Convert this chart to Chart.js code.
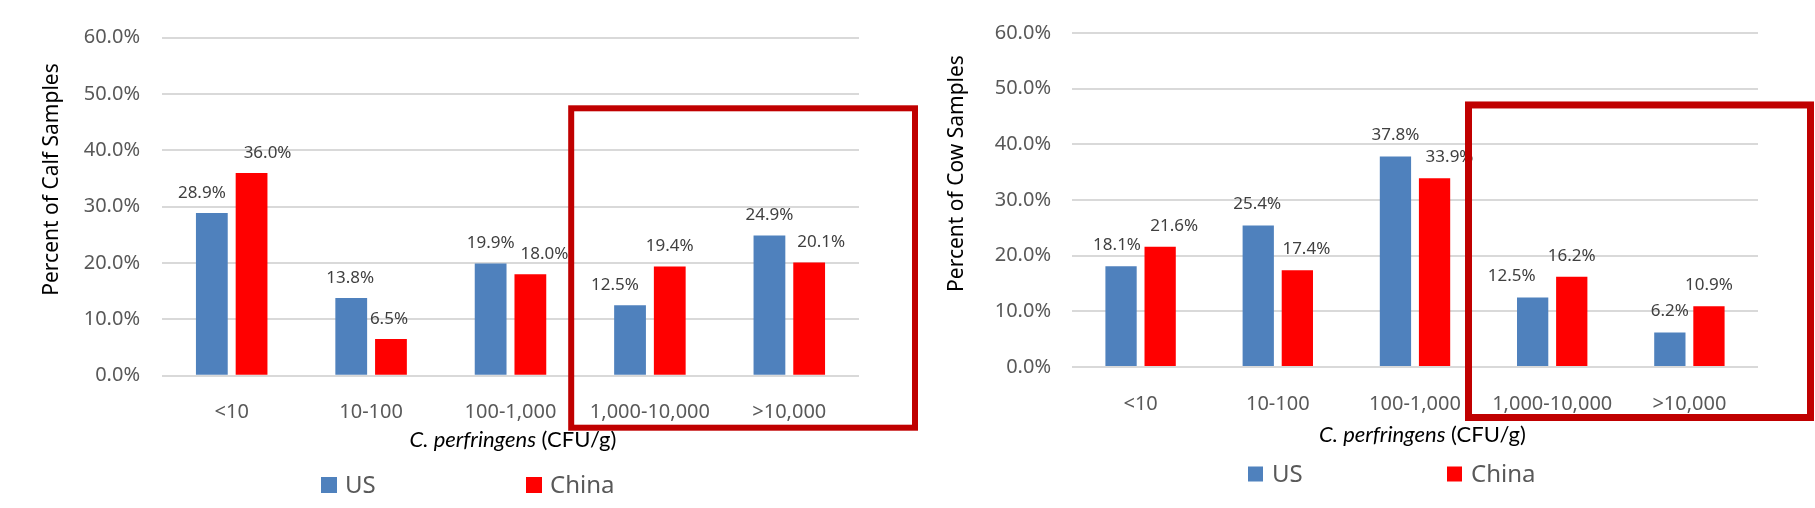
<!DOCTYPE html>
<html><head><meta charset="utf-8">
<script src="https://cdn.jsdelivr.net/npm/chart.js@4.4.0/dist/chart.umd.min.js"></script>
<style>
html,body{margin:0;padding:0;background:#fff;width:1815px;height:508px;overflow:hidden;}
#w1{position:absolute;left:0;top:0;width:930px;height:508px;}
#w2{position:absolute;left:930px;top:0;width:885px;height:508px;}
</style></head><body>
<div id="w1"><canvas id="c1"></canvas></div>
<div id="w2"><canvas id="c2"></canvas></div>
<script>
// ---- data ----
const categories = ['<10', '10-100', '100-1,000', '1,000-10,000', '>10,000'];
const seriesNames = ['US', 'China'];
const calfUS = [28.9, 13.8, 19.9, 12.5, 24.9];
const calfChina = [36.0, 6.5, 18.0, 19.4, 20.1];
const cowUS = [18.1, 25.4, 37.8, 12.5, 6.2];
const cowChina = [21.6, 17.4, 33.9, 16.2, 10.9];
const yTickLabels = ['0.0%', '10.0%', '20.0%', '30.0%', '40.0%', '50.0%', '60.0%'];
const calfYTitle = 'Percent of Calf Samples';
const cowYTitle = 'Percent of Cow Samples';
const xTitleItalic = 'C. perfringens';
const xTitleRest = ' (CFU/g)';

// ---- label nudges (layout only, px) ----
const calfLabelDx = [[-10, -1, 0, -15, 0], [16, -2, 14, 0, 12]];
const cowLabelDx = [[-4, -1, 0, -21, 0], [14, 9, 15, 0, 0]];

const US_COLOR = '#4F81BD';
const CN_COLOR = '#FF0000';
const FONT = '"Noto Sans", "Open Sans", sans-serif';

const extras = {
  id: 'extras',
  afterDatasetsDraw(chart, args, o) {
    const ctx = chart.ctx, ca = chart.chartArea;
    const ys = chart.scales.y;
    ctx.save();
    // data labels
    ctx.font = '17px ' + FONT;
    ctx.fillStyle = '#404040';
    ctx.textAlign = 'center';
    ctx.textBaseline = 'middle';
    chart.data.datasets.forEach((ds, di) => {
      const meta = chart.getDatasetMeta(di);
      meta.data.forEach((bar, i) => {
        ctx.fillText(ds.data[i].toFixed(1) + '%', bar.x + o.labelDx[di][i], bar.y - o.labelGap);
      });
    });
    // y title
    ctx.save();
    ctx.translate(o.yTitle.x, o.yTitle.y);
    ctx.rotate(-Math.PI / 2);
    ctx.font = '21px ' + FONT;
    ctx.fillStyle = '#000000';
    ctx.fillText(o.yTitle.text, 0, 0);
    ctx.restore();
    // x title (italic + regular)
    const fI = 'italic 22px Lato, "Open Sans", sans-serif';
    const fR = '22px Lato, "Open Sans", sans-serif';
    ctx.font = fI; const wI = ctx.measureText(xTitleItalic).width;
    ctx.font = fR; const wR = ctx.measureText(xTitleRest).width;
    let sx = (ca.left + ca.right) / 2 + o.xTitle.dx - (wI + wR) / 2;
    ctx.textAlign = 'left';
    ctx.fillStyle = '#000000';
    ctx.font = fI; ctx.fillText(xTitleItalic, sx, o.xTitle.y);
    ctx.font = fR; ctx.fillText(xTitleRest, sx + wI, o.xTitle.y);
    // legend
    ctx.font = '24px ' + FONT;
    const cols = [US_COLOR, CN_COLOR];
    seriesNames.forEach((n, k) => {
      const x = o.legend.xs[k];
      ctx.fillStyle = cols[k];
      ctx.fillRect(x, o.legend.y - o.legend.box / 2, o.legend.box, o.legend.box);
      ctx.fillStyle = '#595959';
      ctx.fillText(n, x + 24, o.legend.y + 1);
    });
    // highlight box around the last two categories
    const b = o.box;
    const catW = (ca.right - ca.left) / categories.length;
    const left = ca.left + catW * b.fromCat - b.padLeft;
    const top = ys.getPixelForValue(b.topValue);
    const right = ca.right + b.padRight;
    const bottom = ca.bottom + b.padBottom;
    ctx.strokeStyle = '#C00000';
    ctx.lineWidth = b.lw;
    ctx.strokeRect(left + b.lw / 2, top + b.lw / 2, right - left - b.lw, bottom - top - b.lw);
    ctx.restore();
  }
};

function makeChart(id, usData, cnData, cfg) {
  return new Chart(document.getElementById(id), {
    type: 'bar',
    data: {
      labels: categories,
      datasets: [
        { label: seriesNames[0], data: usData, backgroundColor: US_COLOR },
        { label: seriesNames[1], data: cnData, backgroundColor: CN_COLOR }
      ]
    },
    options: {
      responsive: true,
      maintainAspectRatio: false,
      animation: false,
      datasets: { bar: { barPercentage: 0.8, categoryPercentage: 0.57 } },
      layout: { padding: { left: 0, right: cfg.padRight, top: cfg.padTop, bottom: 0 } },
      plugins: {
        legend: { display: false },
        tooltip: { enabled: false },
        extras: cfg.extras
      },
      scales: {
        x: {
          grid: { display: false },
          border: { display: false },
          ticks: { color: '#595959', font: { family: FONT, size: 20 }, padding: 17, autoSkip: false, maxRotation: 0 },
          afterFit: s => { s.height = cfg.xHeight; }
        },
        y: {
          min: 0, max: 60,
          grid: { color: '#D9D9D9', lineWidth: 2, drawTicks: false },
          border: { display: false },
          ticks: {
            stepSize: 10, color: '#595959', font: { family: FONT, size: 20 }, padding: cfg.yPad,
            callback: (v, i) => yTickLabels[i]
          },
          afterFit: s => { s.width = cfg.yWidth; }
        }
      }
    },
    plugins: [extras]
  });
}

makeChart('c1', calfUS, calfChina, {
  padRight: 71, padTop: 37.7, xHeight: 132.3, yWidth: 162, yPad: 22,
  extras: {
    labelDx: calfLabelDx, labelGap: 20,
    yTitle: { text: calfYTitle, x: 52, y: 179.5 },
    xTitle: { dx: 2.5, y: 440 },
    legend: { xs: [321, 526], y: 485, box: 16 },
    box: { fromCat: 3, padLeft: 12, topValue: 48, padRight: 59, padBottom: 55, lw: 6 }
  }
});
makeChart('c2', cowUS, cowChina, {
  padRight: 57, padTop: 24.7, xHeight: 141, yWidth: 142, yPad: 21,
  extras: {
    labelDx: cowLabelDx, labelGap: 21,
    yTitle: { text: cowYTitle, x: 27, y: 173.5 },
    xTitle: { dx: 7.5, y: 435 },
    legend: { xs: [318, 517], y: 474, box: 15 },
    box: { fromCat: 3, padLeft: 18.6, topValue: 47.7, padRight: 56, padBottom: 54, lw: 7 }
  }
});
</script>
</body></html>
